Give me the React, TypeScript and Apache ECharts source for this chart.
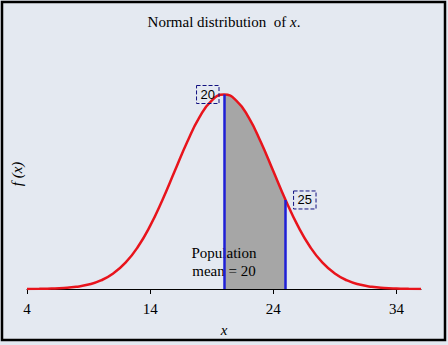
import React, { useEffect, useRef } from "react";
import * as echarts from "echarts";

// x values and read-off density values f(x)
const xValues = [4, 5, 6, 7, 8, 9, 10, 11, 12, 13, 14, 15, 16, 17, 18, 19, 20, 21, 22, 23, 24, 25, 26, 27, 28, 29, 30, 31, 32, 33, 34, 35, 36];
const fValues = [0.00003, 0.00009, 0.00022, 0.00051, 0.00111, 0.00227, 0.00438, 0.00793, 0.01349, 0.02156, 0.03237, 0.04565, 0.06047, 0.07526, 0.08799, 0.09663, 0.09974, 0.09663, 0.08799, 0.07526, 0.06047, 0.04565, 0.03237, 0.02156, 0.01349, 0.00793, 0.00438, 0.00227, 0.00111, 0.00051, 0.00022, 0.00009, 0.00003];
const shadeFrom = 20;
const shadeTo = 25;
const markerXs = [20, 25];
const xTickValues = [4, 14, 24, 34];
const noteText = ["Population", "mean = 20"];
const notePoint = [20, 0.0139];

const SERIF = "'Liberation Serif', 'Times New Roman', serif";
const SANS = "'Liberation Sans', Arial, sans-serif";

export default function App() {
  const ref = useRef<HTMLDivElement>(null);
  useEffect(() => {
    document.body.style.margin = "0";
    const chart = echarts.init(ref.current!, null, { renderer: "svg" });
    const curve = xValues.map((x, i) => [x, fValues[i]]);
    const shade = curve.filter((p) => p[0] >= shadeFrom && p[0] <= shadeTo);
    const fAt = (x: number) => fValues[xValues.indexOf(x)];
    chart.setOption({
      animation: false,
      backgroundColor: "#e4e9f1",
      title: {
        text: "{a|Normal distribution  of }{b|x}{a|.}",
        left: "center",
        top: 14,
        padding: 0,
        textStyle: {
          fontWeight: "normal",
          rich: {
            a: { fontFamily: SERIF, fontSize: 15, color: "#000", fontWeight: "normal" },
            b: { fontFamily: SERIF, fontSize: 15, color: "#000", fontStyle: "italic", fontWeight: "normal" },
          },
        },
      },
      grid: { left: 27, right: 27, top: 94, bottom: 56 },
      xAxis: {
        type: "value",
        min: 4,
        max: 36,
        name: "x",
        nameLocation: "middle",
        nameGap: 33,
        nameTextStyle: { fontFamily: SERIF, fontSize: 15, fontStyle: "italic", color: "#000" },
        axisLine: { show: true, onZero: false, lineStyle: { color: "#000", width: 1 } },
        axisTick: { show: true, length: 5, lineStyle: { color: "#000" }, customValues: xTickValues },
        axisLabel: { fontFamily: SERIF, fontSize: 15, color: "#000", margin: 12, customValues: xTickValues },
        splitLine: { show: false },
      },
      yAxis: {
        type: "value",
        min: 0,
        max: 0.1,
        axisLine: { show: false },
        axisTick: { show: false },
        axisLabel: { show: false },
        splitLine: { show: false },
      },
      series: [
        {
          type: "line",
          data: shade,
          smooth: true,
          symbol: "none",
          z: 2,
          lineStyle: { width: 0 },
          areaStyle: { color: "#a6a6a6", opacity: 1 },
          silent: true,
          markLine: {
            silent: true,
            symbol: ["none", "none"],
            label: { show: false },
            lineStyle: { color: "#1f1fd6", width: 2.5, type: "solid", opacity: 1 },
            data: markerXs.map((x) => [{ coord: [x, 0] }, { coord: [x, fAt(x)] }]),
          },
        },
        {
          type: "scatter",
          data: [{ value: notePoint }],
          symbolSize: 0,
          z: 3,
          silent: true,
          itemStyle: { opacity: 1 },
          label: {
            show: true,
            position: "inside",
            formatter: noteText.join("\n"),
            fontFamily: SERIF,
            fontSize: 15,
            lineHeight: 18,
            color: "#000",
            textBorderWidth: 0,
          },
        },
        {
          type: "line",
          data: curve,
          smooth: true,
          symbol: "none",
          z: 4,
          lineStyle: { color: "#e8141c", width: 2.5 },
          silent: true,
        },
        {
          type: "scatter",
          symbolSize: 0,
          z: 5,
          silent: true,
          itemStyle: { opacity: 1 },
          data: markerXs.map((x, i) => ({
            value: [x, fAt(x)],
            label: {
              show: true,
              position: i === 0 ? "left" : "right",
              distance: i === 0 ? 5 : 8,
              formatter: String(x),
              fontFamily: SANS,
              fontSize: 13,
              color: "#000",
              borderColor: "#101080",
              borderWidth: 1,
              borderType: "dashed",
              padding: [3, 4, 2, 4],
            },
          })),
        },
      ],
      graphic: [
        {
          type: "text",
          x: 17,
          y: 174,
          rotation: Math.PI / 2,
          style: {
            text: "f (x)",
            font: "italic 15px " + SERIF,
            fill: "#000",
            align: "center",
            verticalAlign: "middle",
          },
        },
        {
          type: "rect",
          shape: { x: 2, y: 2, width: 443, height: 338 },
          style: { fill: "none", stroke: "#000", lineWidth: 2.5 },
          silent: true,
        },
      ],
    });
    return () => chart.dispose();
  }, []);
  return <div ref={ref} style={{ position: "fixed", left: 0, top: 0, width: 448, height: 345 }} />;
}
